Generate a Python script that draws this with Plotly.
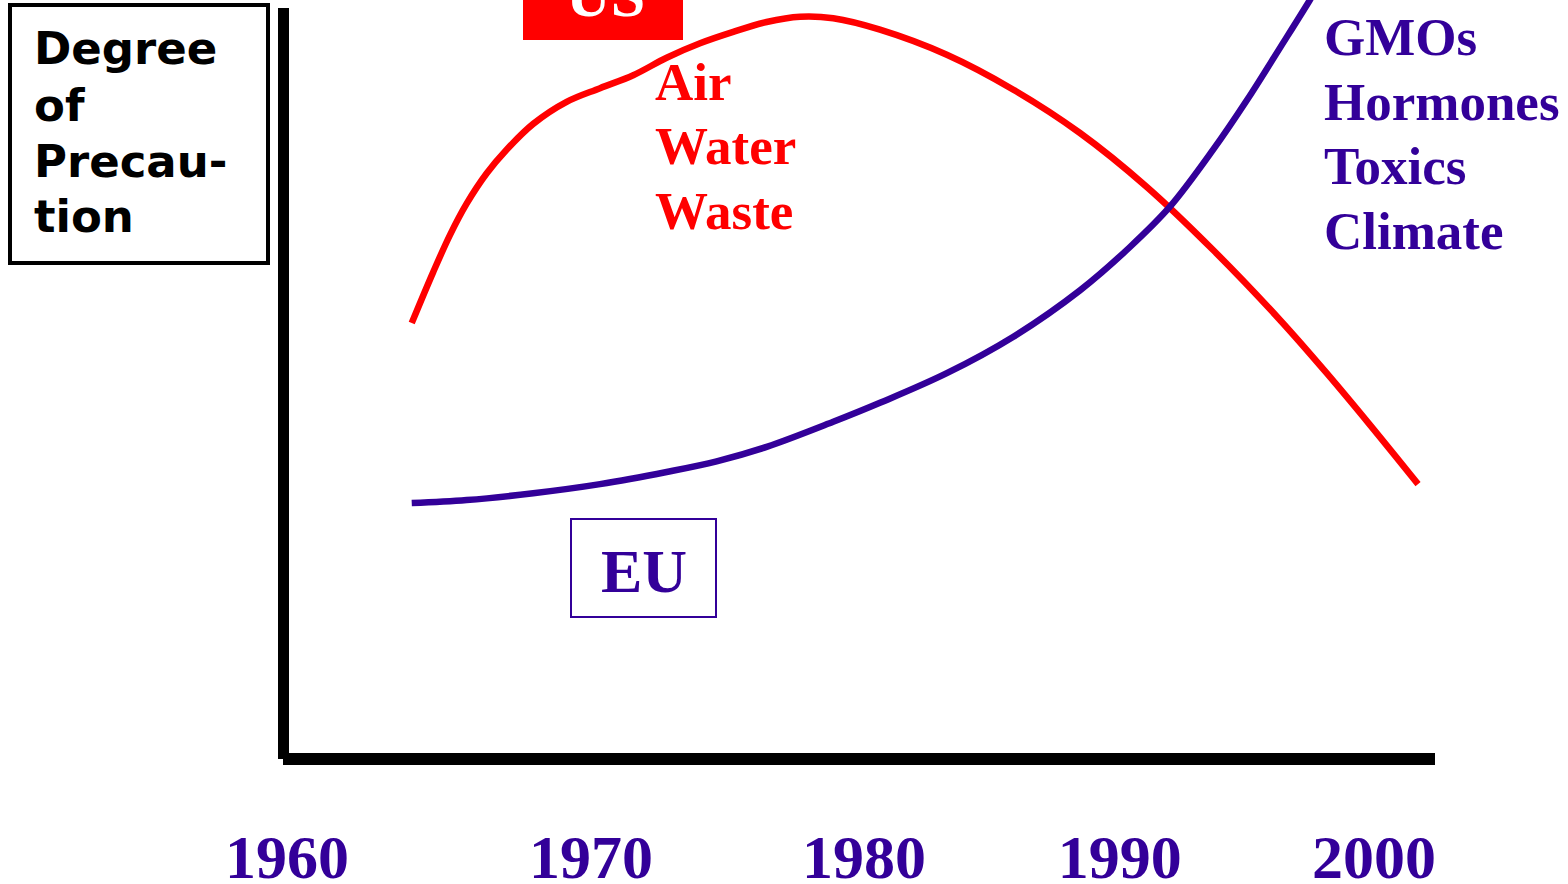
import plotly.graph_objects as go

# ---- data (years, degree of precaution on a 0-100 scale) ----
us_years = [1964.59, 1965.38, 1966.00, 1966.61, 1967.35, 1968.08, 1969.06, 1970.29,
            1971.52, 1972.74, 1973.97, 1975.20, 1976.42, 1977.65, 1978.88, 1980.10,
            1981.82, 1984.28, 1986.73, 1989.18, 1991.64, 1994.08, 1996.54, 1998.26,
            1999.85, 2001.62]
us_values = [57.5, 64.2, 69.1, 73.2, 77.2, 80.3, 83.7, 86.6,
             88.4, 90.1, 92.4, 94.3, 95.8, 97.1, 97.8, 97.6,
             96.1, 92.8, 88.2, 82.5, 75.4, 67.1, 57.9, 50.9,
             44.1, 36.3]

eu_years = [1964.59, 1966.61, 1969.06, 1971.52, 1973.97, 1975.81, 1977.65, 1980.10,
            1981.82, 1984.28, 1986.73, 1989.18, 1991.02, 1992.49, 1994.08, 1995.32,
            1996.54, 1997.64, 1997.90]
eu_values = [33.8, 34.2, 35.1, 36.3, 37.9, 39.3, 41.2, 44.5,
             47.0, 50.9, 55.7, 61.8, 67.5, 72.8, 80.3, 86.8,
             93.7, 100.0, 101.6]

tick_labels = ["1960", "1970", "1980", "1990", "2000"]
tick_positions = [1960.0, 1971.19, 1981.23, 1990.64, 2000.0]

us_issues = ["Air", "Water", "Waste"]
eu_issues = ["GMOs", "Hormones", "Toxics", "Climate"]

RED = "#FF0000"
BLUE = "#330099"
SERIF = "Liberation Serif, Times New Roman, serif"
SANS = "DejaVu Sans, Arial, sans-serif"

W, H = 1568, 884
L, R, T, B = 283, 133, 0, 124
PW, PH = W - L - R, H - T - B


def px(x):
    return (x - L) / PW


def py(y):
    return (H - B - y) / PH


fig = go.Figure()
fig.add_trace(go.Scatter(x=us_years, y=us_values, mode="lines",
                         line=dict(color=RED, width=6.5, shape="spline", smoothing=1.0),
                         name="US", hoverinfo="skip"))
fig.add_trace(go.Scatter(x=eu_years, y=eu_values, mode="lines",
                         line=dict(color=BLUE, width=6.5, shape="spline", smoothing=1.0),
                         name="EU", hoverinfo="skip"))

shapes = [
    # axes
    dict(type="rect", xref="paper", yref="paper", x0=px(278), x1=px(289), y0=py(759), y1=py(8),
         fillcolor="black", line=dict(width=0)),
    dict(type="rect", xref="paper", yref="paper", x0=px(283), x1=px(1435), y0=py(765), y1=py(753),
         fillcolor="black", line=dict(width=0)),
    # title box
    dict(type="rect", xref="paper", yref="paper", x0=px(10), x1=px(268), y0=py(263), y1=py(5),
         fillcolor="rgba(0,0,0,0)", line=dict(color="black", width=4)),
    # US box
    dict(type="rect", xref="paper", yref="paper", x0=px(523), x1=px(683), y0=py(40), y1=py(-20),
         fillcolor=RED, line=dict(width=0)),
    # EU box
    dict(type="rect", xref="paper", yref="paper", x0=px(571), x1=px(716), y0=py(617), y1=py(519),
         fillcolor="rgba(0,0,0,0)", line=dict(color=BLUE, width=2)),
]

annotations = []
for txt, cy in zip(["Degree", "of", "Precau-", "tion"], [48.6, 105.3, 161.9, 216.6]):
    annotations.append(dict(text=txt, xref="paper", yref="paper", x=px(32), y=py(cy),
                            xanchor="left", yanchor="middle", showarrow=False,
                            font=dict(family=SANS, size=45, color="black", weight="bold")))
for txt, cy in zip(us_issues, [82.5, 146, 211]):
    annotations.append(dict(text=txt, xref="paper", yref="paper", x=px(653), y=py(cy),
                            xanchor="left", yanchor="middle", showarrow=False,
                            font=dict(family=SERIF, size=53, color=RED, weight="bold")))
for txt, cy in zip(eu_issues, [37.5, 102.5, 165.5, 230.5]):
    annotations.append(dict(text=txt, xref="paper", yref="paper", x=px(1322), y=py(cy),
                            xanchor="left", yanchor="middle", showarrow=False,
                            font=dict(family=SERIF, size=53, color=BLUE, weight="bold")))
annotations.append(dict(text="US", xref="paper", yref="paper", x=px(605), y=py(-5.5),
                        xanchor="center", yanchor="middle", showarrow=False,
                        font=dict(family=SERIF, size=62, color="white", weight="bold")))
annotations.append(dict(text="EU", xref="paper", yref="paper", x=px(643.7), y=py(571),
                        xanchor="center", yanchor="middle", showarrow=False,
                        font=dict(family=SERIF, size=62, color=BLUE, weight="bold")))

fig.update_layout(
    width=W, height=H,
    margin=dict(l=L, r=R, t=T, b=B, pad=0),
    paper_bgcolor="white", plot_bgcolor="white",
    showlegend=False,
    shapes=shapes,
    annotations=annotations,
    xaxis=dict(range=[1959.853, 2002.244], showgrid=False, zeroline=False, showline=False,
               tickmode="array", tickvals=tick_positions, ticktext=tick_labels,
               ticks="", ticklabelstandoff=55, automargin=False,
               tickfont=dict(family=SERIF, size=62, color=BLUE, weight="bold")),
    yaxis=dict(range=[0, 100], showgrid=False, zeroline=False, showline=False,
               showticklabels=False, ticks="", automargin=False),
)

fig.write_html("out.html",
               config={"displayModeBar": False},
               post_script="document.body.style.margin='0';document.body.style.overflow='hidden';")
